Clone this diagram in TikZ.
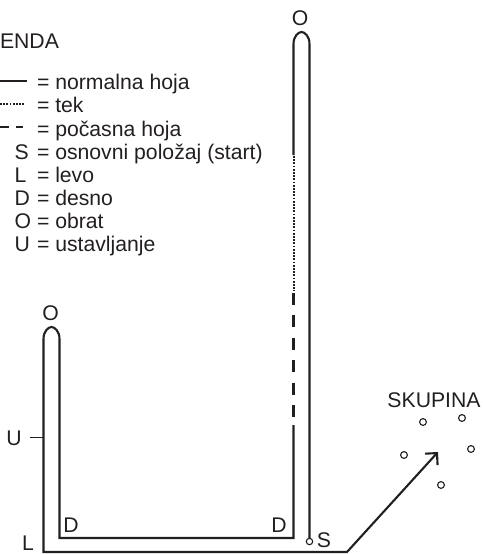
\documentclass[tikz,border=0pt]{standalone}
\usepackage{fontspec}
\setmainfont{Liberation Sans}
\usetikzlibrary{arrows.meta}
\definecolor{ink}{HTML}{231F20}
\begin{document}
\begin{tikzpicture}[x=1pt,y=-1pt,
  txt/.style={inner sep=0pt,outer sep=0pt,font=\fontsize{21.2}{24}\selectfont,text=ink},
  walk/.style={draw=ink,line width=2.1pt},
  tekline/.style={draw=ink,line width=2pt,dash pattern=on 1.8pt off 1.4pt},
  slowline/.style={draw=ink,line width=2.1pt,dash pattern=on 12pt off 10.4pt},
  member/.style={draw=ink,line width=1.1pt,fill=white}]
\useasboundingbox (0,0) rectangle (482,554);

% legend
\node[txt,anchor=base west] (leg) at (0,48) {ENDA};
\draw[walk] (0,81) -- (27,81);
\draw[tekline] (0,103.5) -- (24,103.5);
\draw[walk] (0,127) -- (8.5,127);
\draw[walk] (16,127) -- (23,127);
\node[txt,anchor=base west] (l1) at (37,89) {= normalna hoja};
\node[txt,anchor=base west] (l2) at (37,112) {= tek};
\node[txt,anchor=base west] (l3) at (37,136) {= počasna hoja};
\node[txt,anchor=base west] (kS) at (14.5,159.5) {S};
\node[txt,anchor=base west] (l4) at (37,159.5) {= osnovni položaj (start)};
\node[txt,anchor=base west] (kL) at (14.5,182.5) {L};
\node[txt,anchor=base west] (l5) at (37,182.5) {= levo};
\node[txt,anchor=base west] (kD) at (14.5,205.5) {D};
\node[txt,anchor=base west] (l6) at (37,205.5) {= desno};
\node[txt,anchor=base west] (kO) at (14.5,228.5) {O};
\node[txt,anchor=base west] (l7) at (37,228.5) {= obrat};
\node[txt,anchor=base west] (kU) at (14.5,251.5) {U};
\node[txt,anchor=base west] (l8) at (37,251.5) {= ustavljanje};

% key points
\coordinate (A1) at (43.5,339);   % left loop outer top
\coordinate (A2) at (59.5,339);   % left loop inner top
\coordinate (B1) at (293.5,44);   % right loop inner top
\coordinate (B2) at (309.5,44);   % right loop outer top
\coordinate (Sp) at (309.5,541.5);% start position
\coordinate (Ar) at (347,552);    % turn to group
\coordinate (Gr) at (438,452);    % arrow tip

% route
\draw[walk] (309.5,538) -- (B2)
  .. controls (309.5,36) and (304.5,32) .. (301.5,32)
  .. controls (298.5,32) and (293.5,36) .. (B1) -- (293.5,155);
\draw[tekline] (293.5,156) -- (293.5,291);
\draw[slowline] (293.5,293) -- (293.5,418);
\draw[walk,line join=miter,-{Straight Barb[length=8.5pt,width=17pt,line width=2.1pt]}]
  (293.5,425) -- (293.5,538) -- (59.5,538) -- (A2)
  .. controls (59.5,331) and (54.5,327) .. (51.5,327)
  .. controls (48.5,327) and (43.5,331) .. (A1)
  -- (43.5,552) -- (Ar) -- (Gr);
\draw[member] (Sp) circle (3.2);
\draw[draw=ink,line width=1pt] (30,437) -- (43.5,437);

% labels
\node[txt,anchor=base] (oL) at (50.5,320) {O};
\node[txt,anchor=base] (oR) at (300,25.5) {O};
\node[txt,anchor=base] (uL) at (14,445) {U};
\node[txt,anchor=base] (lL) at (28,550) {L};
\node[txt,anchor=base] (dL) at (71,532) {D};
\node[txt,anchor=base] (dR) at (279,532) {D};
\node[txt,anchor=base] (sL) at (324,547) {S};
\node[txt,anchor=base] (grp) at (434,407) {SKUPINA};

% group members
\draw[member] (423,422) circle (3.4);
\draw[member] (462,418) circle (3.4);
\draw[member] (404,455) circle (3.4);
\draw[member] (471,449) circle (3.4);
\draw[member] (441,485) circle (3.4);
\end{tikzpicture}
\end{document}
